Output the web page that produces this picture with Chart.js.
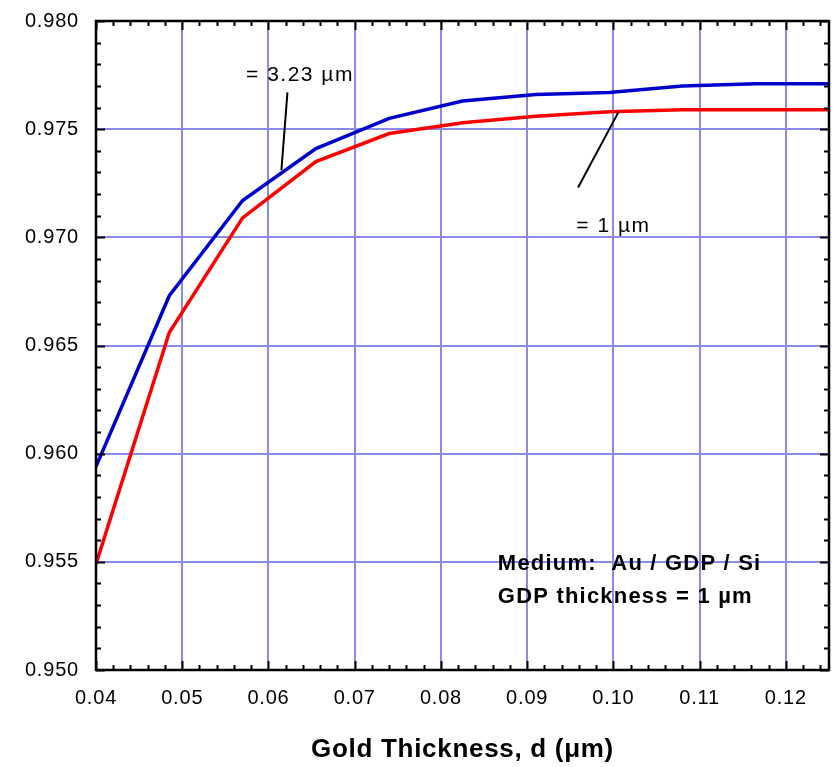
<!DOCTYPE html>
<html>
<head>
<meta charset="utf-8">
<script src="https://cdn.jsdelivr.net/npm/chart.js@4"></script>
<style>
  html, body { margin: 0; padding: 0; background: #fff; }
  #wrap { width: 835px; height: 767px; }
</style>
</head>
<body>
<div id="wrap"><canvas id="reflChart" width="835" height="767"></canvas></div>
<script>
// gold thickness (um)
const thickness = [0.04, 0.0485, 0.057, 0.0655, 0.074, 0.0825, 0.091, 0.0995, 0.108, 0.1165, 0.125];
// reflectance at wavelength 3.23 um
const refl323 = [0.9594, 0.9673, 0.9717, 0.9741, 0.9755, 0.9763, 0.9766, 0.9767, 0.9770, 0.9771, 0.9771];
// reflectance at wavelength 1 um
const refl1 = [0.9549, 0.9656, 0.9709, 0.9735, 0.9748, 0.9753, 0.9756, 0.9758, 0.9759, 0.9759, 0.9759];

const xTicks = [0.04, 0.05, 0.06, 0.07, 0.08, 0.09, 0.10, 0.11, 0.12];
const yTicks = [0.950, 0.955, 0.960, 0.965, 0.970, 0.975, 0.980];

const FONT = '"Liberation Sans", Arial, sans-serif';

// labels placed in data coordinates
const notes = [
    { text: '= 3.23 µm', x: 0.0574, y: 0.9775, bold: false, size: 21, spacing: 1.5 },
    { text: '= 1 µm', x: 0.0957, y: 0.9705, bold: false, size: 21, spacing: 1.5 },
    { text: 'Medium:  Au / GDP / Si', x: 0.0866, y: 0.9549, bold: true, size: 22, spacing: 1.2 },
    { text: 'GDP thickness = 1 µm', x: 0.0866, y: 0.9534, bold: true, size: 22, spacing: 1.2 }
];
const leaders = [
    { x1: 0.0622, y1: 0.9767, x2: 0.0615, y2: 0.9731 },
    { x1: 0.0959, y1: 0.9723, x2: 0.1006, y2: 0.9758 }
];

const frameAndTicks = {
    id: 'frameAndTicks',
    beforeDraw(chart) {
        chart.ctx.letterSpacing = '0.8px';
    },
    afterDatasetsDraw(chart) {
        const { ctx, chartArea: a, scales: { x, y } } = chart;
        ctx.save();
        ctx.strokeStyle = '#000';
        ctx.lineWidth = 2;
        ctx.beginPath();
        // x ticks, every 0.002 major every 0.01
        for (let i = 0; i <= 42; i++) {
            const v = 0.04 + i * 0.002;
            const px = Math.round(x.getPixelForValue(v)) + 0.5;
            const len = i % 5 === 0 ? 9 : 5;
            ctx.moveTo(px, a.bottom); ctx.lineTo(px, a.bottom - len);
            ctx.moveTo(px, a.top); ctx.lineTo(px, a.top + len);
        }
        // y ticks, every 0.001 major every 0.005
        for (let i = 0; i <= 30; i++) {
            const v = 0.95 + i * 0.001;
            const py = Math.round(y.getPixelForValue(v)) + 0.5;
            const len = i % 5 === 0 ? 9 : 5;
            ctx.moveTo(a.left, py); ctx.lineTo(a.left + len, py);
            ctx.moveTo(a.right, py); ctx.lineTo(a.right - len, py);
        }
        ctx.stroke();
        ctx.lineWidth = 2.5;
        ctx.strokeRect(a.left, a.top, a.right - a.left, a.bottom - a.top);

        ctx.lineWidth = 2;
        ctx.beginPath();
        leaders.forEach(l => {
            ctx.moveTo(x.getPixelForValue(l.x1), y.getPixelForValue(l.y1));
            ctx.lineTo(x.getPixelForValue(l.x2), y.getPixelForValue(l.y2));
        });
        ctx.stroke();

        ctx.fillStyle = '#000';
        ctx.textBaseline = 'middle';
        ctx.textAlign = 'left';
        notes.forEach(n => {
            ctx.letterSpacing = n.spacing + 'px';
            ctx.font = (n.bold ? 'bold ' : '') + n.size + 'px ' + FONT;
            ctx.fillText(n.text, x.getPixelForValue(n.x), y.getPixelForValue(n.y));
        });

        // x axis title
        ctx.letterSpacing = '0.7px';
        ctx.font = 'bold 26px ' + FONT;
        ctx.textAlign = 'center';
        ctx.fillText('Gold Thickness, d (μm)', (a.left + a.right) / 2, 750);
        ctx.restore();
    }
};

new Chart(document.getElementById('reflChart').getContext('2d'), {
    type: 'line',
    data: {
        datasets: [{
            label: '1 um',
            data: thickness.map((t, i) => ({ x: t, y: refl1[i] })),
            borderColor: '#ff0000',
            borderWidth: 3.5,
            pointRadius: 0,
            tension: 0
        }, {
            label: '3.23 um',
            data: thickness.map((t, i) => ({ x: t, y: refl323[i] })),
            borderColor: '#0000cc',
            borderWidth: 3.5,
            pointRadius: 0,
            tension: 0
        }]
    },
    options: {
        responsive: false,
        animation: false,
        layout: { padding: { top: 21, right: 6, left: 0, bottom: 0 } },
        plugins: { legend: { display: false }, tooltip: { enabled: false } },
        scales: {
            x: {
                type: 'linear',
                min: 0.04,
                max: 0.125,
                afterBuildTicks: s => { s.ticks = xTicks.map(v => ({ value: v })); },
                afterFit: s => { s.height = 97; s.paddingLeft = 0; s.paddingRight = 0; },
                grid: { color: '#8a8aee', lineWidth: 2, drawTicks: false },
                border: { display: false },
                ticks: {
                    padding: 16,
                    color: '#000',
                    font: { family: FONT, size: 20 },
                    callback: v => v.toFixed(2)
                }
            },
            y: {
                min: 0.95,
                max: 0.98,
                afterBuildTicks: s => { s.ticks = yTicks.map(v => ({ value: v })); },
                afterFit: s => { s.width = 96; s.paddingTop = 0; s.paddingBottom = 0; },
                grid: { color: '#8a8aee', lineWidth: 2, drawTicks: false },
                border: { display: false },
                ticks: {
                    padding: 17,
                    color: '#000',
                    font: { family: FONT, size: 20 },
                    callback: v => v.toFixed(3)
                }
            }
        }
    },
    plugins: [frameAndTicks]
});
</script>
</body>
</html>
